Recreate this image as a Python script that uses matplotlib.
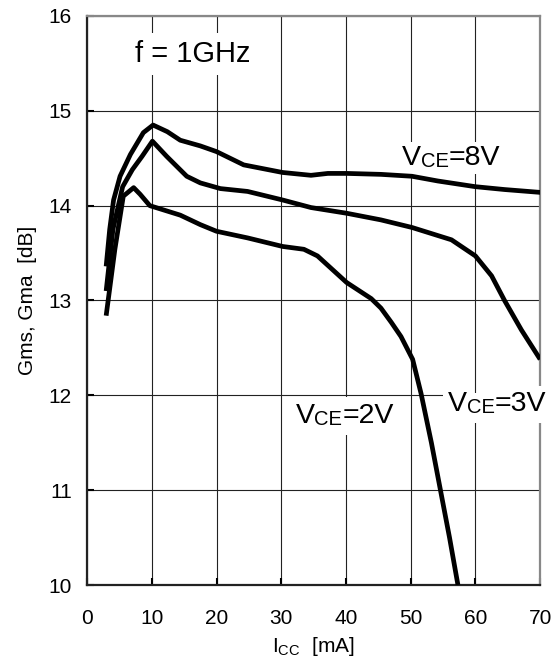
import matplotlib
matplotlib.use("Agg")
import matplotlib.pyplot as plt

plt.rcParams['font.family'] = ['Liberation Sans', 'DejaVu Sans']
plt.rcParams['mathtext.default'] = 'regular'

# VCE = 8 V
x8 = [2.95, 3.5, 4.1, 5.1, 6.7, 8.7, 10.2, 12.4, 14.4, 17.5, 20, 24.2, 30.2, 34.6, 37.2, 40.1, 45.4, 50.2, 54.2, 60, 64.5, 70]
y8 = [13.36, 13.75, 14.06, 14.31, 14.54, 14.77, 14.85, 14.78, 14.69, 14.63, 14.57, 14.43, 14.35, 14.32, 14.34, 14.34, 14.33, 14.31, 14.26, 14.2, 14.17, 14.14]
# VCE = 3 V
x3 = [2.95, 4.0, 5.5, 7.0, 8.5, 10.1, 12.3, 15.4, 17.5, 20.6, 24.8, 30.2, 34.6, 40.1, 45.4, 50.2, 56.3, 60, 62.5, 64.5, 67.1, 70]
y3 = [13.1, 13.75, 14.2, 14.38, 14.52, 14.68, 14.52, 14.31, 14.24, 14.18, 14.15, 14.06, 13.98, 13.92, 13.85, 13.77, 13.64, 13.47, 13.26, 13.0, 12.69, 12.38]
# VCE = 2 V
x2 = [2.95, 4.3, 5.6, 7.2, 8.2, 9.7, 14.4, 17.5, 20, 24.8, 30.2, 33.5, 35.6, 40.1, 43.9, 45.4, 47, 48.5, 50.3, 51.6, 53.2, 54.6, 56.0, 57.3]
y2 = [12.84, 13.54, 14.1, 14.19, 14.12, 14.0, 13.9, 13.8, 13.73, 13.66, 13.57, 13.54, 13.47, 13.19, 13.02, 12.92, 12.77, 12.62, 12.38, 12.02, 11.5, 11.0, 10.5, 10.0]

xticks = [0, 10, 20, 30, 40, 50, 60, 70]
yticks = [10, 11, 12, 13, 14, 15, 16]

fig = plt.figure(figsize=(5.58, 6.66), dpi=100)
ax = fig.add_axes([0.156, 0.1216, 0.812, 0.8544])

for xs, ys in [(x8, y8), (x3, y3), (x2, y2)]:
    ax.plot(xs, ys, color='black', lw=3.4, solid_capstyle='butt', solid_joinstyle='round', zorder=6)

ax.set_xlim(0, 70)
ax.set_ylim(10, 16)
ax.set_xticks(xticks)
ax.set_yticks(yticks)
ax.grid(True, color='#222222', lw=0.8, zorder=1)
ax.set_axisbelow(True)
ax.tick_params(direction='in', length=5, width=1.5, labelsize=15)
ax.tick_params(axis='x', pad=17)
ax.tick_params(axis='y', pad=11)
for s in ['left', 'bottom']:
    ax.spines[s].set_color('#222222')
    ax.spines[s].set_linewidth(1.6)
for s in ['top', 'right']:
    ax.spines[s].set_color('#888888')
    ax.spines[s].set_linewidth(1.6)

ax.set_ylabel('Gms, Gma  [dB]', fontsize=15, labelpad=8)
ax.set_xlabel(r'I$_{CC}$  [mA]', fontsize=15, labelpad=5)

box = dict(facecolor='white', edgecolor='none', pad=5)
ax.text(7.44, 15.52, 'f = 1GHz', fontsize=21, va='baseline', ha='left', bbox=box, zorder=4)


def vlabel(x, y, tail, pad):
    pieces = [('V', 20.5), ('CE', 14.5), (tail, 20.5)]
    shown = []
    prev = None
    for s, fs in pieces:
        if prev is None:
            t = ax.text(x, y, s, fontsize=fs, va='baseline', ha='left', zorder=5)
        else:
            t = ax.annotate(s, xy=(1, 0), xycoords=prev, fontsize=fs,
                            va='bottom', ha='left', zorder=5)
        shown.append((t, s, fs))
        prev = t
    # white backing boxes behind the label (under the text, above the grid)
    b = dict(facecolor='white', edgecolor='none', pad=pad)
    for t, s, fs in shown:
        ax.annotate(s, xy=(0, 0), xycoords=t, fontsize=fs, va='bottom', ha='left',
                    color='none', bbox=b, zorder=3)


vlabel(48.6, 14.43, '=8V', 2)
vlabel(32.2, 11.71, '=2V', 4)
vlabel(55.8, 11.83, '=3V', 4)

fig.savefig('out.png', dpi=100, facecolor='white')
